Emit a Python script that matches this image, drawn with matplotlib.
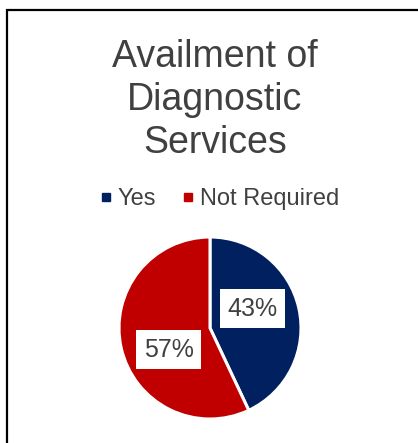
import numpy as np
import matplotlib.pyplot as plt
from matplotlib.patches import Rectangle
from matplotlib.lines import Line2D

plt.rcParams['font.family'] = ['Liberation Sans', 'DejaVu Sans']

categories = ['Yes', 'Not Required']
shares = [43, 57]
colors = ['#002060', '#C00000']
text_color = '#404040'

W, H = 418, 443
fig = plt.figure(figsize=(W / 100, H / 100), dpi=100)

# outer chart border
fig.patches.append(Rectangle((7 / W, -0.1), 1.2, 1.1 - 9.5 / H, transform=fig.transFigure,
                             fill=False, edgecolor='black', linewidth=1.6))

fig.text(215 / W, 1 - 39 / H, 'Availment of\nDiagnostic\nServices', ha='center', va='top',
         fontsize=27, color=text_color, linespacing=1.25)

cx, cy, r = 210, 328, 91
ax = fig.add_axes([(cx - r) / W, (H - cy - r) / H, 2 * r / W, 2 * r / H])
wedges, _ = ax.pie(shares, colors=colors, startangle=90, counterclock=False,
                   wedgeprops=dict(edgecolor='white', linewidth=2.2))
ax.set_xlim(-1, 1)
ax.set_ylim(-1, 1)
ax.set_aspect('equal')

# data labels in white boxes, slightly rotated from the wedge middle
for w, v, off in zip(wedges, shares, [12, 15]):
    ang = np.deg2rad((w.theta1 + w.theta2) / 2 + off)
    ax.text(0.51 * np.cos(ang), 0.51 * np.sin(ang), f'{v}%', ha='center', va='center',
            fontsize=18, color=text_color,
            bbox=dict(boxstyle='square,pad=0.3', facecolor='white', edgecolor='none'))

handles = [Line2D([], [], marker='s', linestyle='none', markersize=5.5,
                  markerfacecolor=c, markeredgecolor=c) for c in colors]
fig.legend(handles, categories, loc='center', bbox_to_anchor=(217 / W, 1 - 199 / H),
           ncol=2, frameon=False, fontsize=17, labelcolor=text_color,
           handletextpad=0.05, columnspacing=0.9, handlelength=0.9)

fig.savefig('out.png', dpi=100, facecolor='white')
